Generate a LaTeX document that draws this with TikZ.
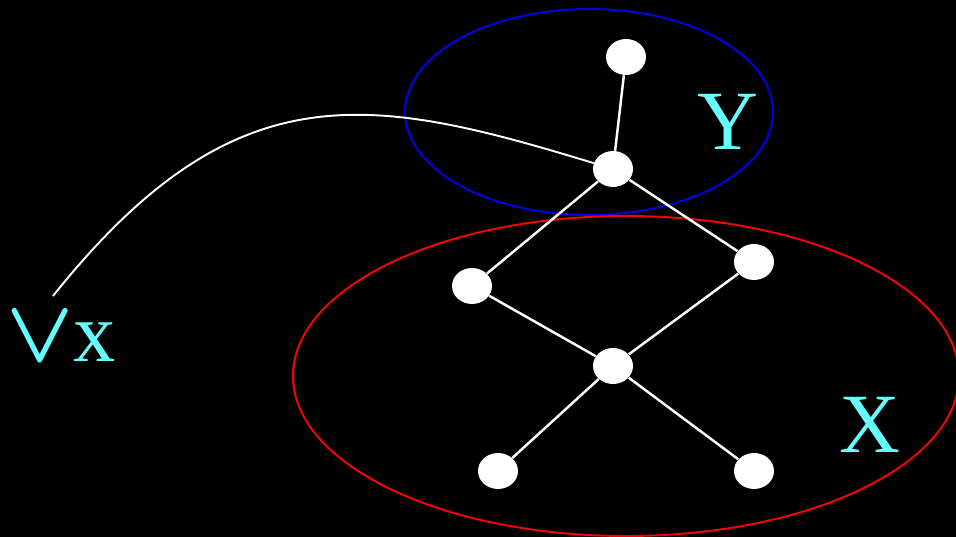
\documentclass[tikz,border=0pt]{standalone}
\usepackage{graphicx}
\usepackage{fontspec}
\setmainfont{Liberation Serif}
\usetikzlibrary{shapes.geometric, positioning}
\definecolor{labcyan}{RGB}{102,255,255}
\definecolor{setblue}{RGB}{0,0,235}

\begin{document}
\begin{tikzpicture}[x=0.02cm, y=0.02cm,
    elem/.style={ellipse, fill=white, minimum width=0.8cm, minimum height=0.72cm, inner sep=0pt},
    link/.style={white, line width=1.4pt},
    setlab/.style={labcyan, font=\fontsize{48}{48}\selectfont}]
    \fill[black] (0,0) rectangle (956,537);
    \useasboundingbox (0,0) rectangle (956,537);

    % the two sets
    \draw[setblue, line width=1.1pt] (589,425) ellipse [x radius=184, y radius=103];
    \draw[red, line width=1.1pt] (626,161) ellipse [x radius=333, y radius=160];

    \node[elem] (top) at (626,480) {};
    \node[elem] (y) at (613,368) {};
    \node[elem] (l) at (472,251) {};
    \node[elem] (r) at (754,275) {};
    \node[elem] (c) at (613,171) {};
    \node[elem] (bl) at (498,66) {};
    \node[elem] (br) at (754,66) {};

    \path[link]
        (top) edge (y)
        (y) edge (l)
        (y) edge (r)
        (l) edge (c)
        (r) edge (c)
        (c) edge (bl)
        (c) edge (br);

    \node[setlab] (ylab) at (728,415) {Y};
    \node[setlab] (xlab) at (870,112) {X};
    \node[labcyan, anchor=base, inner sep=0pt] (vee) at (40,175) {\scalebox{5}{\boldmath$\vee$}};
    \node[setlab, anchor=base] (vx) at (95,175) {x};

    \coordinate (tail) at (53,241);
    \draw[link, line width=1.1pt] (tail) .. controls (235,469) and (370,442) .. (y);
\end{tikzpicture}
\end{document}
